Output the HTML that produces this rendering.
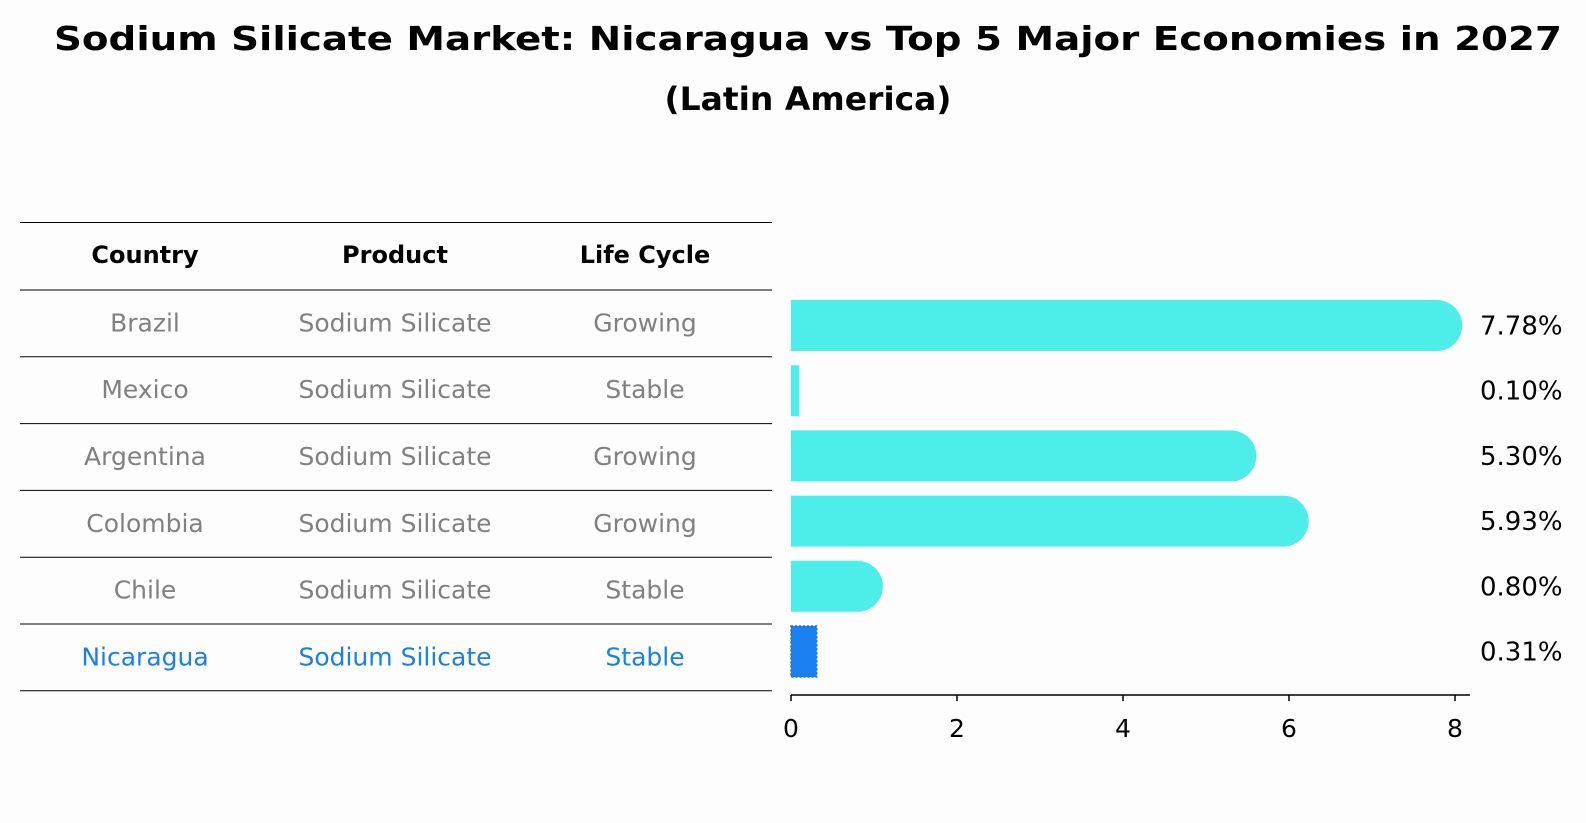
<!DOCTYPE html>
<html><head><meta charset="utf-8"><style>
body{margin:0;background:#fdfdfd;}
svg{display:block;font-family:"DejaVu Sans","Liberation Sans",sans-serif;}
</style></head><body>
<svg id="c" width="1586" height="823" viewBox="0 0 1586 823">
<rect width="1586" height="823" fill="#fdfdfd"/>
<text x="808" y="50" text-anchor="middle" font-size="33" font-weight="bold" textLength="1508" lengthAdjust="spacingAndGlyphs">Sodium Silicate Market: Nicaragua vs Top 5 Major Economies in 2027</text>
<text x="808" y="110" text-anchor="middle" font-size="32" font-weight="bold" textLength="287" lengthAdjust="spacingAndGlyphs">(Latin America)</text>
<g id="table"></g>
<g id="bars"></g>
</svg>
<script>
const countries=["Brazil","Mexico","Argentina","Colombia","Chile","Nicaragua"];
const products=["Sodium Silicate","Sodium Silicate","Sodium Silicate","Sodium Silicate","Sodium Silicate","Sodium Silicate"];
const lifecycles=["Growing","Stable","Growing","Growing","Stable","Stable"];
const values=[7.78,0.10,5.30,5.93,0.80,0.31];
const valueLabels=["7.78%","0.10%","5.30%","5.93%","0.80%","0.31%"];
const ticks=[0,2,4,6,8];
const NS="http://www.w3.org/2000/svg";
function mk(tag,attrs,parent,txt){const e=document.createElementNS(NS,tag);for(const k in attrs)e.setAttribute(k,attrs[k]);if(txt!==undefined)e.textContent=txt;parent.appendChild(e);return e;}
const x=v=>791+v*83;
const rowY=i=>325.5+i*65.2;
const tbl=document.getElementById('table'),bars=document.getElementById('bars');
const lines=[222.5,290];for(let i=0;i<6;i++)lines.push(290+(i+1)*66.8);
lines.forEach(y=>{const l=mk('line',{x1:20,x2:772,y1:y,y2:y,stroke:'#000','stroke-width':1},tbl);

});
const cols=[145,395,645];
["Country","Product","Life Cycle"].forEach((h,j)=>{const t=mk('text',{x:cols[j],y:263,'text-anchor':'middle','font-size':24,'font-weight':'bold'},tbl,h);

});
countries.forEach((c,i)=>{const col=i===5?'#1a80e5':'#808080';const cy=(lines[i+1]+lines[i+2])/2+8;
[c,products[i],lifecycles[i]].forEach((v,j)=>{const t=mk('text',{x:cols[j],y:cy,'text-anchor':'middle','font-size':25,fill:col},tbl,v);

});
const h=51,y0=rowY(i)-h/2,x1=x(values[i]);let b;
if(i===5){b=mk('rect',{x:x(0),y:y0,width:x1-x(0),height:h,fill:'#1a80f0',stroke:'#1a70d0','stroke-dasharray':'2 2','stroke-width':1.5},bars);}
else{const w=x1-x(0),r=w>30?25.5:0;
b=mk('path',{d:r?`M${x(0)},${y0}H${x1}A${r},${r} 0 0 1 ${x1},${y0+h}H${x(0)}Z`:`M${x(0)},${y0}H${x1}V${y0+h}H${x(0)}Z`,fill:'#4deeea'},bars);}


const t=mk('text',{x:1480,y:rowY(i)+9,'font-size':26},bars,valueLabels[i]);

});
const ax=mk('line',{x1:x(0),x2:1470,y1:695,y2:695,stroke:'#000','stroke-width':1.5},bars);


ticks.forEach(v=>{const tk=mk('line',{x1:x(v),x2:x(v),y1:695,y2:701,stroke:'#000','stroke-width':1.5},bars);


const t=mk('text',{x:x(v),y:737,'text-anchor':'middle','font-size':25},bars,String(v));

});
</script>
</body></html>
